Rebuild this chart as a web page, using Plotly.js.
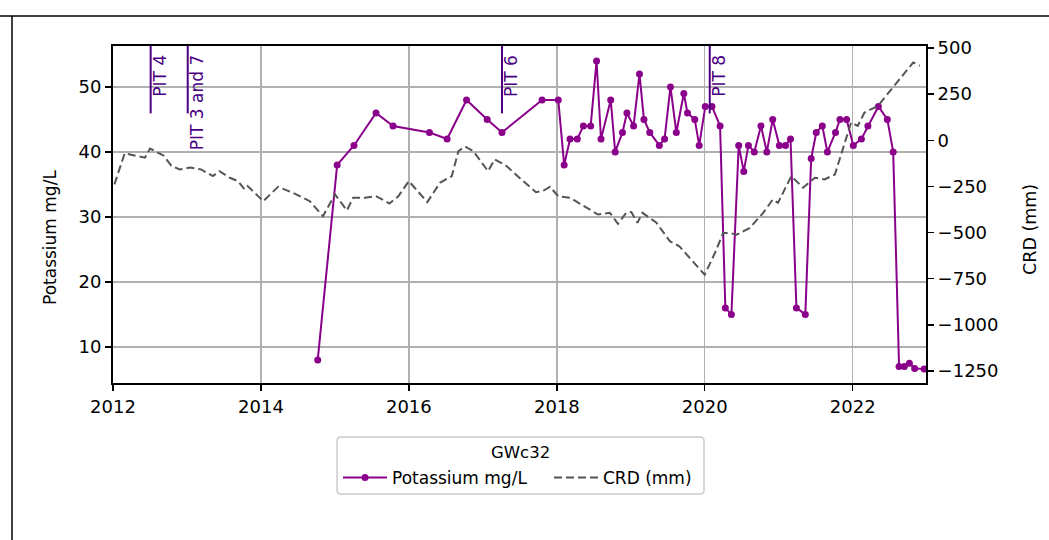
<!DOCTYPE html>
<html>
<head>
<meta charset="utf-8">
<script src="https://cdn.plot.ly/plotly-3.0.1.min.js"></script>
<style>html,body{margin:0;padding:0;background:#fff;}#chart{width:1049px;height:540px;}</style>
</head>
<body>
<div id="chart"></div>
<script>
// Potassium (mg/L) samples
const kDates = ["2014-10-08","2015-01-12","2015-04-05","2015-07-23","2015-10-15","2016-04-12","2016-07-08","2016-10-12","2017-01-22","2017-04-05","2017-10-20","2018-01-08","2018-02-06","2018-03-07","2018-04-12","2018-05-12","2018-06-17","2018-07-16","2018-08-07","2018-09-24","2018-10-16","2018-11-21","2018-12-13","2019-01-15","2019-02-13","2019-03-07","2019-04-05","2019-05-22","2019-06-17","2019-07-16","2019-08-14","2019-09-20","2019-10-08","2019-11-13","2019-12-05","2020-01-04","2020-02-06","2020-03-17","2020-04-12","2020-05-12","2020-06-17","2020-07-12","2020-08-04","2020-09-02","2020-10-05","2020-11-03","2020-12-02","2021-01-04","2021-02-03","2021-02-28","2021-03-29","2021-05-12","2021-06-10","2021-07-05","2021-08-04","2021-08-29","2021-10-08","2021-10-30","2021-12-02","2022-01-04","2022-02-13","2022-03-17","2022-05-08","2022-06-21","2022-07-20","2022-08-18","2022-09-13","2022-10-08","2022-11-03","2022-12-20"];
const kValues = [8,38,41,46,44,43,42,48,45,43,48,48,38,42,42,44,44,54,42,48,40,43,46,44,52,45,43,41,42,50,43,49,46,45,41,47,47,44,16,15,41,37,41,40,44,40,45,41,41,42,16,15,39,43,44,40,43,45,45,41,42,44,47,45,40,7,7,7.5,6.7,6.6];

// CRD (mm)
const crdDates = ["2012-01-08","2012-02-28","2012-04-16","2012-06-07","2012-07-02","2012-09-06","2012-10-16","2012-11-25","2013-01-15","2013-03-11","2013-05-08","2013-06-10","2013-07-31","2013-09-09","2013-10-12","2013-10-27","2014-01-12","2014-03-26","2014-06-07","2014-08-30","2014-11-03","2015-01-01","2015-03-01","2015-04-01","2015-05-30","2015-07-23","2015-09-27","2015-11-10","2016-01-01","2016-04-01","2016-06-03","2016-07-31","2016-09-02","2016-10-05","2016-11-14","2017-01-26","2017-02-28","2017-04-27","2017-07-09","2017-09-20","2017-10-23","2017-11-28","2018-01-08","2018-03-07","2018-07-23","2018-09-20","2018-10-30","2018-12-09","2019-01-04","2019-02-03","2019-02-28","2019-05-08","2019-07-13","2019-08-29","2019-11-03","2020-01-01","2020-02-21","2020-04-01","2020-05-05","2020-06-07","2020-08-11","2020-10-16","2020-12-02","2020-12-28","2021-03-04","2021-05-01","2021-06-28","2021-08-15","2021-10-05","2021-11-14","2021-12-24","2022-01-26","2022-02-28","2022-05-05","2022-08-22","2022-10-27","2022-11-28"];
const crdValues = [-239,-70,-82,-94,-45,-82,-139,-158,-148,-158,-194,-167,-203,-221,-266,-248,-330,-252,-284,-330,-411,-293,-380,-311,-311,-303,-342,-303,-221,-335,-230,-194,-58,-34,-58,-167,-103,-139,-212,-281,-275,-252,-303,-311,-402,-393,-453,-393,-389,-447,-393,-447,-547,-574,-656,-728,-610,-502,-502,-511,-475,-393,-321,-339,-194,-257,-203,-212,-185,-49,96,78,150,186,331,422,404];

// Event markers
const pitLabels = ["PIT 4","PIT 3 and 7","PIT 6","PIT 8"];
const pitDates = ["2012-07-05","2013-01-04","2017-04-05","2020-01-26"];

// Axis ticks
const xTickVals = ["2012-01-01","2014-01-01","2016-01-01","2018-01-01","2020-01-01","2022-01-01"];
const xTickText = ["2012","2014","2016","2018","2020","2022"];
const yLeftTicks = [10,20,30,40,50];
const yRightTicks = [-1250,-1000,-750,-500,-250,0,250,500];
const yRightText = ["\u22121250","\u22121000","\u2212750","\u2212500","\u2212250","0","250","500"];
const legendTitle = "GWc32";

const FONT = "DejaVu Sans, sans-serif";
const PURPLE = "#8b008b";
const INDIGO = "#4b0082";

// plot area in px (for placing decorations)
const PL = 113, PR = 926, PT = 46, PB = 383;
const px2x = p => (p - PL) / (PR - PL);
const px2y = p => (PB - p) / (PB - PT);

const traces = [
  {x: kDates, y: kValues, name: "Potassium mg/L", type: "scatter", mode: "lines+markers",
   line: {color: PURPLE, width: 2}, marker: {color: PURPLE, size: 7}, yaxis: "y"},
  {x: crdDates, y: crdValues, name: "CRD (mm)", type: "scatter", mode: "lines",
   line: {color: "#555555", width: 2, dash: "8px,4px"}, yaxis: "y2"}
];

const shapes = pitDates.map(d => ({type: "line", xref: "x", yref: "paper", x0: d, x1: d, y0: 0.8, y1: 1,
  line: {color: INDIGO, width: 2}}));
// outer frame edges visible in the reference
shapes.push({type: "line", xref: "paper", yref: "paper", x0: px2x(0), x1: px2x(1049), y0: px2y(16), y1: px2y(16), line: {color: "#000", width: 1.5}});
shapes.push({type: "line", xref: "paper", yref: "paper", x0: px2x(12), x1: px2x(12), y0: px2y(16), y1: px2y(545), line: {color: "#000", width: 1.5}});
// legend frame (rounded)
(function(){
  const x0 = 337, x1 = 704, y0 = 437, y1 = 494, r = 4;
  const X = px2x, Y = px2y;
  const p = `M ${X(x0+r)} ${Y(y0)} L ${X(x1-r)} ${Y(y0)} Q ${X(x1)} ${Y(y0)} ${X(x1)} ${Y(y0+r)} L ${X(x1)} ${Y(y1-r)} Q ${X(x1)} ${Y(y1)} ${X(x1-r)} ${Y(y1)} L ${X(x0+r)} ${Y(y1)} Q ${X(x0)} ${Y(y1)} ${X(x0)} ${Y(y1-r)} L ${X(x0)} ${Y(y0+r)} Q ${X(x0)} ${Y(y0)} ${X(x0+r)} ${Y(y0)} Z`;
  shapes.push({type: "path", xref: "paper", yref: "paper", path: p, line: {color: "#cccccc", width: 1.5}, fillcolor: "rgba(0,0,0,0)"});
})();

const annotations = pitLabels.map((t, i) => ({text: t, x: pitDates[i], xref: "x", y: 1, yref: "paper",
  xanchor: "left", yanchor: "top", textangle: -90, showarrow: false, yshift: -7, xshift: -3,
  font: {family: FONT, size: 17, color: INDIGO}}));
// axis titles
annotations.push({text: "Potassium mg/L", xref: "paper", yref: "paper", x: px2x(50), y: px2y(237), xanchor: "center", yanchor: "middle",
  textangle: -90, showarrow: false, font: {family: FONT, size: 17, color: "#000"}});
annotations.push({text: "CRD (mm)", xref: "paper", yref: "paper", x: px2x(1030), y: px2y(230), xanchor: "center", yanchor: "middle",
  textangle: -90, showarrow: false, font: {family: FONT, size: 17.5, color: "#000"}});
// legend title
annotations.push({text: legendTitle, xref: "paper", yref: "paper", x: px2x(520), y: px2y(452), xanchor: "center", yanchor: "middle",
  showarrow: false, font: {family: FONT, size: 16.5, color: "#000"}});

const axisCommon = {showline: true, linecolor: "#000", linewidth: 2, ticks: "outside", ticklen: 6, tickwidth: 1.5,
  tickcolor: "#000", zeroline: false, tickfont: {size: 18}};

const layout = {
  width: 1049, height: 540,
  margin: {l: PL, r: 1049 - PR, t: PT, b: 540 - PB},
  paper_bgcolor: "#fff", plot_bgcolor: "#fff",
  font: {family: FONT, size: 17, color: "#000"},
  showlegend: true,
  xaxis: Object.assign({type: "date", range: ["2012-01-01", "2022-12-29"], tickmode: "array", tickvals: xTickVals, ticktext: xTickText,
    showgrid: true, gridcolor: "#b0b0b0", gridwidth: 1.5, mirror: true}, axisCommon),
  yaxis: Object.assign({range: [4.45, 56.3], tickmode: "array", tickvals: yLeftTicks,
    showgrid: true, gridcolor: "#b0b0b0", gridwidth: 1.5, mirror: true}, axisCommon),
  yaxis2: Object.assign({range: [-1315, 511], overlaying: "y", side: "right", tickmode: "array", tickvals: yRightTicks, ticktext: yRightText,
    showgrid: false}, axisCommon),
  legend: {orientation: "h", x: px2x(338), xanchor: "left", y: px2y(460), yanchor: "top",
    font: {size: 17}, itemwidth: 44, entrywidth: 152, borderwidth: 0, bgcolor: "rgba(0,0,0,0)"},
  shapes: shapes,
  annotations: annotations
};

Plotly.newPlot("chart", traces, layout, {staticPlot: true, displayModeBar: false});
</script>
</body>
</html>
